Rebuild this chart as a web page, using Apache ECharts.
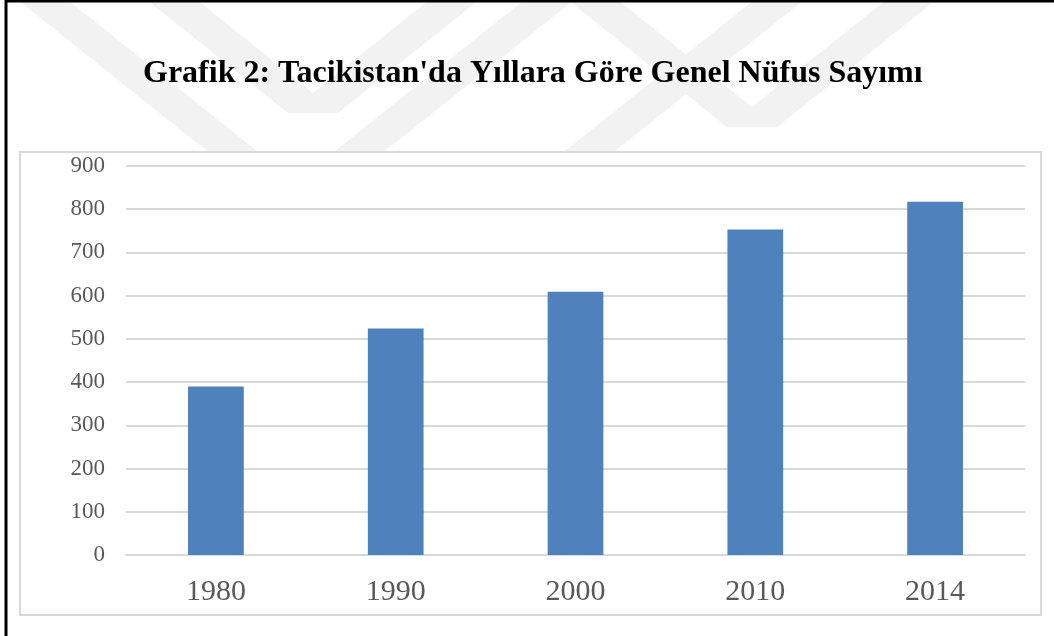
<!DOCTYPE html>
<html>
<head>
<meta charset="utf-8">
<script src="https://cdn.jsdelivr.net/npm/echarts@6/dist/echarts.min.js"></script>
<style>
  html, body { margin: 0; padding: 0; background: #fff; }
  #nufus { width: 1054px; height: 636px; }
</style>
</head>
<body>
<div id="nufus"></div>
<script>
// veriler
const yillar = ['1980', '1990', '2000', '2010', '2014'];
const nufus = [390, 524, 609, 753, 817];
const baslik = "Grafik 2: Tacikistan'da Yıllara Göre Genel Nüfus Sayımı";

// arka plandaki soluk filigran seritleri (ust kenar a-b, alt kenar c-d)
const serit = (a, b, y0, c, d, y1) => ({
  type: 'polygon',
  z: -20,
  silent: true,
  shape: { points: [[a, y0], [b, y0], [d, y1], [c, y1]] },
  style: { fill: '#f2f2f2' }
});

const getOptionNufus = () =>
{
  return {
    animation: false,
    title: {
      text: baslik,
      left: 138,
      top: 53,
      textStyle: {
        fontFamily: 'Liberation Serif',
        fontWeight: 'bold',
        fontSize: 32,
        color: '#000'
      }
    },
    graphic: [
      serit(18, 68, 0, 212, 262, 155),
      serit(147, 197, 0, 288, 338, 113),
      serit(429, 479, 0, 288, 338, 113),
      serit(524, 574, 0, 330, 380, 155),
      serit(568, 618, 0, 727, 777, 127),
      serit(886, 936, 0, 727, 777, 127),
      serit(754, 804, 0, 560, 610, 155),
      {
        type: 'rect',
        z: -10,
        silent: true,
        shape: { x: 20, y: 152, width: 1021, height: 463 },
        style: { fill: '#fff', stroke: '#d9d9d9', lineWidth: 2 }
      },
      {
        type: 'rect',
        z: 100,
        silent: true,
        shape: { x: 6, y: 1, width: 1200, height: 800 },
        style: { fill: 'none', stroke: '#000', lineWidth: 3 }
      }
    ],
    grid: {
      left: 126,
      right: 29,
      top: 166,
      bottom: 81
    },
    xAxis: {
      type: 'category',
      data: yillar,
      axisLine: { lineStyle: { color: '#d9d9d9', width: 2 } },
      axisTick: { show: false },
      axisLabel: {
        fontFamily: 'Liberation Serif',
        fontSize: 30,
        color: '#595959',
        margin: 22
      }
    },
    yAxis: {
      type: 'value',
      min: 0,
      max: 900,
      interval: 100,
      axisLine: { show: false },
      axisTick: { show: false },
      splitLine: { lineStyle: { color: '#d9d9d9', width: 2 } },
      axisLabel: {
        fontFamily: 'Liberation Serif',
        fontSize: 23,
        color: '#595959',
        margin: 21
      }
    },
    series: [
      {
        type: 'bar',
        data: nufus,
        barWidth: '31%',
        itemStyle: { color: '#4f81bd' }
      }
    ]
  };
};

const initChart = () =>
{
  const chart = echarts.init(document.getElementById('nufus'));
  chart.setOption(getOptionNufus());
};

window.addEventListener('load', () => { initChart(); });
</script>
</body>
</html>
